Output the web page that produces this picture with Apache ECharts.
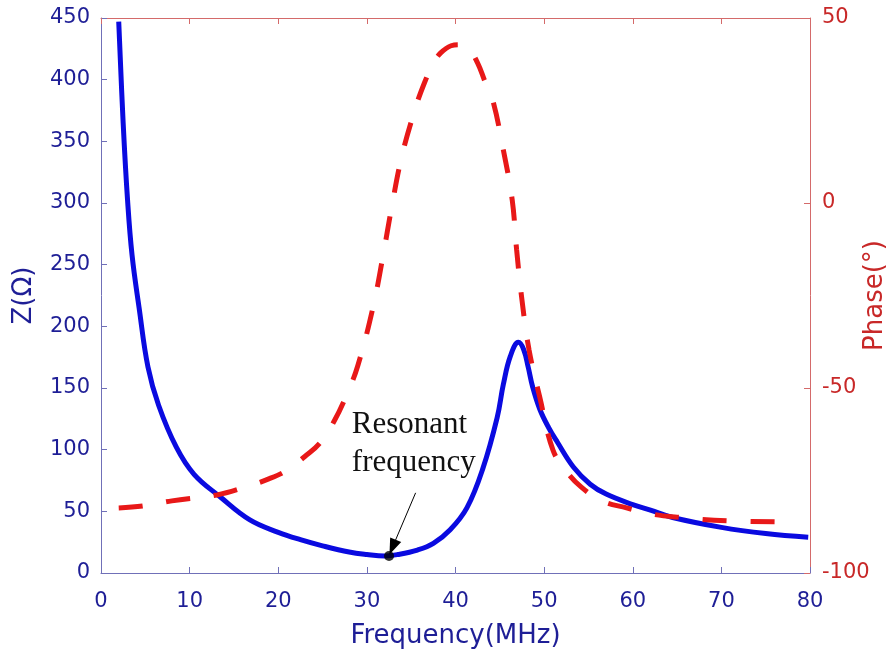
<!DOCTYPE html>
<html>
<head>
<meta charset="utf-8">
<script src="https://cdn.jsdelivr.net/npm/echarts@6/dist/echarts.min.js"></script>
<style>html,body{margin:0;padding:0;background:#fff;}#c{width:895px;height:657px;}</style>
</head>
<body>
<div id="c"></div>
<script>
// Impedance magnitude Z(Ω) vs frequency (MHz)
const zFreq = [2, 2.5, 3, 3.5, 4.3, 5.3, 6.5, 8.5, 10.5, 13.4, 16.8, 20, 22.5, 25, 28, 30, 32, 33.5, 35.7, 37.5, 39.4, 41.3, 43.1, 44.7, 45.4, 46.2, 47.1, 47.7, 48.2, 48.7, 49.5, 50.5, 51.5, 53.3, 55.2, 57, 60, 62, 64.5, 70, 75, 79.8];
const zVals = [447, 365, 302, 258, 215, 167, 136, 102, 80, 62, 43, 33, 27, 22, 17, 15, 13.8, 15, 18.6, 24, 35, 53, 85, 126, 153, 176, 187, 181, 167, 151, 133, 118, 106, 86, 72, 64, 55.5, 51, 45, 37, 32, 29];
// Phase (°) vs frequency (MHz)
const pFreq = [2, 4.7, 8, 13.1, 16, 19, 21, 23, 24.7, 26.3, 27.8, 29, 30.7, 31.8, 32.8, 33.9, 35.4, 36.5, 37.5, 38.3, 39.5, 40.5, 41.4, 42.5, 43.3, 44.2, 45.4, 46.4, 46.9, 47.5, 48.3, 49.5, 51, 52.5, 54.2, 56.5, 59.3, 62, 65, 70.6, 77.5];
const pVals = [-82.4, -81.9, -80.5, -78.9, -77, -74.5, -72.2, -68.5, -64.9, -59, -51.4, -43.8, -28.1, -14.6, -1.1, 12.2, 25.1, 32.5, 37.8, 40.5, 42.5, 42.8, 42.2, 37.8, 33, 27.8, 14.3, 0.8, -12.7, -26.2, -39.7, -52.4, -66.8, -72.5, -76.8, -80.5, -82.4, -84, -84.9, -85.9, -86.2];
// Resonant point and annotation
const resonant = [32.5, 13.8];
const arrowFrom = [35.5, 65];
const arrowTo = [32.9, 21];
const labelAt = [28.3, 105];
const xTicks = {min: 0, max: 80, interval: 10};
const zTicks = {min: 0, max: 450, interval: 50};
const pTicks = {min: -100, max: 50, interval: 50};

const blueLine = '#7070b8', blueText = '#1e1e96';
const redLine = '#d46a6a', redText = '#c82828';
const font = 'DejaVu Sans, Liberation Sans, Arial, sans-serif';

const chart = echarts.init(document.getElementById('c'));
chart.setOption({
  animation: false,
  grid: {left: 101, right: 85, top: 18, bottom: 84, containLabel: false, outerBoundsMode: 'none'},
  xAxis: [{
    type: 'value', position: 'bottom', min: xTicks.min, max: xTicks.max, interval: xTicks.interval,
    name: 'Frequency(MHz)', nameLocation: 'middle', nameGap: 50, nameMoveOverlap: false,
    nameTextStyle: {color: blueText, fontSize: 26, fontFamily: font},
    axisLine: {show: true, onZero: false, lineStyle: {color: blueLine, width: 1}},
    axisTick: {show: true, inside: true, length: 6, lineStyle: {color: blueLine}},
    axisLabel: {color: blueText, fontSize: 21, fontFamily: font, margin: 18},
    splitLine: {show: false}
  }, {
    type: 'value', position: 'top', min: xTicks.min, max: xTicks.max, interval: xTicks.interval,
    axisLine: {show: true, onZero: false, lineStyle: {color: redLine, width: 1}},
    axisTick: {show: true, inside: true, length: 6, lineStyle: {color: redLine}},
    axisLabel: {show: false}, splitLine: {show: false}
  }],
  yAxis: [{
    type: 'value', position: 'left', min: zTicks.min, max: zTicks.max, interval: zTicks.interval,
    name: 'Z(Ω)', nameLocation: 'middle', nameGap: 64, nameRotate: 90, nameMoveOverlap: false,
    nameTextStyle: {color: blueText, fontSize: 26, fontFamily: font},
    axisLine: {show: true, onZero: false, lineStyle: {color: blueLine, width: 1}},
    axisTick: {show: true, inside: true, length: 6, lineStyle: {color: blueLine}},
    axisLabel: {color: blueText, fontSize: 21, fontFamily: font, margin: 11},
    splitLine: {show: false}
  }, {
    type: 'value', position: 'right', min: pTicks.min, max: pTicks.max, interval: pTicks.interval,
    name: 'Phase(°)', nameLocation: 'middle', nameGap: 52, nameRotate: 90, nameMoveOverlap: false,
    nameTextStyle: {color: redText, fontSize: 26, fontFamily: font},
    axisLine: {show: true, onZero: false, lineStyle: {color: redLine, width: 1}},
    axisTick: {show: true, inside: true, length: 6, lineStyle: {color: redLine}},
    axisLabel: {color: redText, fontSize: 21, fontFamily: font, margin: 12},
    splitLine: {show: false}
  }],
  series: [{
    type: 'line', xAxisIndex: 0, yAxisIndex: 0, smooth: 0.4, symbol: 'none',
    data: zFreq.map((f, i) => [f, zVals[i]]),
    lineStyle: {color: '#0a0ae0', width: 5}, z: 2
  }, {
    type: 'line', xAxisIndex: 0, yAxisIndex: 1, smooth: 0.4, symbol: 'none',
    data: pFreq.map((f, i) => [f, pVals[i]]),
    lineStyle: {color: '#e81818', width: 5, type: [24, 24], cap: 'butt'}, z: 3
  }, {
    type: 'scatter', xAxisIndex: 0, yAxisIndex: 0, symbolSize: 10,
    data: [resonant], itemStyle: {color: '#000'}, z: 5,
    markLine: {
      silent: true, symbol: ['none', 'triangle'], symbolSize: [12, 16],
      lineStyle: {color: '#000', width: 1, type: 'solid'}, label: {show: false},
      data: [[{coord: arrowFrom}, {coord: arrowTo}]]
    },
    markPoint: {
      silent: true, symbol: 'circle', symbolSize: 0,
      data: [{coord: labelAt}],
      label: {show: true, position: 'right', distance: 0, formatter: 'Resonant\nfrequency',
        color: '#111', fontSize: 31, lineHeight: 38, fontFamily: 'Liberation Serif, Times New Roman, serif', align: 'left'}
    }
  }]
});
</script>
</body>
</html>
